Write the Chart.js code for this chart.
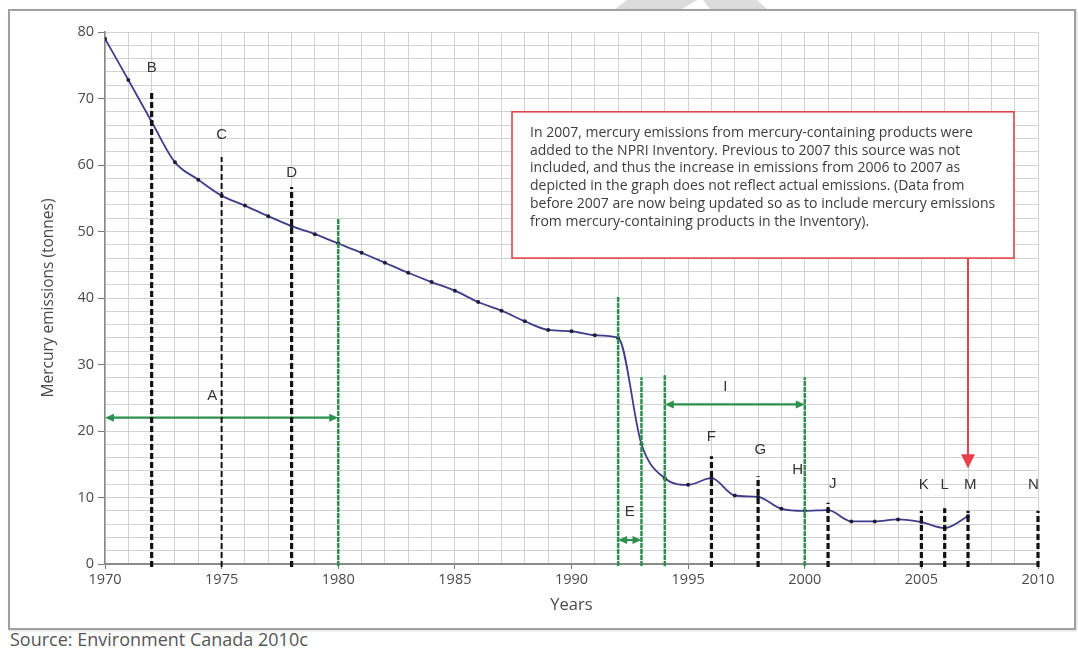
<!DOCTYPE html>
<html>
<head>
<meta charset="utf-8">
<script src="https://cdn.jsdelivr.net/npm/chart.js@4/dist/chart.umd.min.js"></script>
<style>
  html, body { margin: 0; padding: 0; background: #ffffff; }
  body { width: 1078px; height: 654px; position: relative; overflow: hidden; font-family: "Open Sans", sans-serif; }
  #frame { position: absolute; left: 8px; top: 9px; width: 1064px; height: 617px; border: 2px solid #a0a0a0; box-shadow: 1px 1px 2px rgba(0,0,0,0.15); background: #fff; }
  #wm1 { position: absolute; left: 0; top: 0; width: 1078px; height: 9px; background: #dcdcdc;
         clip-path: polygon(615px 9px, 627px 0px, 697px 0px, 682px 9px); }
  #wm2 { position: absolute; left: 0; top: 0; width: 1078px; height: 9px; background: #dcdcdc;
         clip-path: polygon(710px 9px, 703px 0px, 757px 0px, 767px 9px); }
  #source { position: absolute; left: 10px; top: 627px; font-size: 18px; color: #555; font-family: "Open Sans", sans-serif; }
  #wrap { position: absolute; left: 0; top: 0; width: 1078px; height: 654px; }
</style>
</head>
<body>
<div id="frame"></div>
<div id="wm1"></div>
<div id="wm2"></div>
<div id="source">Source: Environment Canada 2010c</div>
<div id="wrap"><canvas id="c" width="1078" height="654"></canvas></div>
<script>
// ---- Data ----
const years = [1970,1971,1972,1973,1974,1975,1976,1977,1978,1979,1980,1981,1982,1983,1984,1985,1986,1987,1988,1989,1990,1991,1992,1993,1994,1995,1996,1997,1998,1999,2000,2001,2002,2003,2004,2005,2006,2007];
const emissions = [79.0,72.8,66.5,60.4,57.8,55.4,53.9,52.3,50.8,49.6,48.2,46.8,45.3,43.8,42.4,41.1,39.4,38.1,36.5,35.2,35.0,34.4,34.0,18.0,12.9,11.9,12.9,10.3,10.1,8.3,8.0,8.1,6.4,6.4,6.7,6.3,5.4,7.2];

// Black dashed marker lines: label, year, top value
const markerLabels = ['B','C','D','F','G','J','K','L','M','N'];
const markerYears  = [1972,1975,1978,1996,1998,2001,2005,2006,2007,2010];
const markerTops   = [71,61.2,56.7,16.2,13.2,9.2,8.0,8.4,8.0,8.0];

// Green vertical lines: year, top value
const greenYears = [1980,1992,1993,1994,2000];
const greenTops  = [52,40.3,28.1,28.4,28.1];

// Green double-headed range arrows: label, from, to, level
const rangeLabels = ['A','E','I'];
const rangeFrom   = [1970,1992,1994];
const rangeTo     = [1980,1993,2000];
const rangeLevel  = [22,3.6,24];

// Letter label positions (year, value)
const letterTexts = ['A','B','C','D','E','F','G','H','I','J','K','L','M','N'];
const letterX     = [1974.6,1972,1975,1978,1992.5,1996,1998.1,1999.7,1996.6,2001.2,2005.1,2006,2007.1,2009.8];
const letterY     = [25.3,74.6,64.5,58.8,7.8,19.1,17.1,14.1,26.6,12.0,11.9,11.9,11.9,11.9];

// Note box (data-space corners) and arrow
const noteLines = [
  'In 2007, mercury emissions from mercury-containing products were',
  'added to the NPRI Inventory. Previous to 2007 this source was not',
  'included, and thus the increase in emissions from 2006 to 2007 as',
  'depicted in the graph does not reflect actual emissions. (Data from',
  'before 2007 are now being updated so as to include mercury emissions',
  'from mercury-containing products in the Inventory).'
];
const noteBox = {x0: 1987.45, x1: 2008.97, y0: 68.0, y1: 46.0};
const noteArrow = {x: 2007, from: 46.0, to: 14.4};

const xTicksLabelled = [1970,1975,1980,1985,1990,1995,2000,2005,2010];
const yTicksLabelled = [0,10,20,30,40,50,60,70,80];

// ---- Styles ----
const GREEN = '#2b8f4e';
const thinMarkers = ['C'];

function arrowHead(ctx, tipX, tipY, dx, dy, len, half) {
  const px = -dy, py = dx;
  ctx.beginPath();
  ctx.moveTo(tipX, tipY);
  ctx.lineTo(tipX - dx*len + px*half, tipY - dy*len + py*half);
  ctx.lineTo(tipX - dx*len - px*half, tipY - dy*len - py*half);
  ctx.closePath();
  ctx.fill();
}

const overlay = {
  id: 'overlay',
  afterDatasetsDraw(chart) {
    const ctx = chart.ctx;
    const xs = chart.scales.x, ys = chart.scales.y;
    const X = v => xs.getPixelForValue(v);
    const Y = v => ys.getPixelForValue(v);
    ctx.save();

    // green vertical lines
    ctx.strokeStyle = GREEN;
    ctx.lineWidth = 2.5;
    ctx.setLineDash([5,1]);
    greenYears.forEach((yr, i) => {
      ctx.beginPath();
      ctx.moveTo(X(yr), Y(0) + 2);
      ctx.lineTo(X(yr), Y(greenTops[i]));
      ctx.stroke();
    });
    ctx.setLineDash([]);

    // green range arrows
    ctx.fillStyle = GREEN;
    ctx.lineWidth = 2.2;
    rangeLabels.forEach((lb, i) => {
      const a = X(rangeFrom[i]), b = X(rangeTo[i]), y = Y(rangeLevel[i]);
      ctx.beginPath();
      ctx.moveTo(a + 4, y);
      ctx.lineTo(b - 4, y);
      ctx.stroke();
      arrowHead(ctx, a, y, -1, 0, 9, 4);
      arrowHead(ctx, b, y, 1, 0, 9, 4);
    });

    // black dashed markers
    ctx.strokeStyle = '#111';
    markerLabels.forEach((lb, i) => {
      ctx.lineWidth = thinMarkers.includes(lb) ? 2 : 3.2;
      ctx.setLineDash([6,3]);
      ctx.beginPath();
      ctx.moveTo(X(markerYears[i]), Y(0) + 3);
      ctx.lineTo(X(markerYears[i]), Y(markerTops[i]));
      ctx.stroke();
    });
    ctx.setLineDash([]);

    // letter labels
    ctx.fillStyle = '#333';
    ctx.font = '15px "Liberation Sans", Arial, sans-serif';
    ctx.textAlign = 'center';
    ctx.textBaseline = 'middle';
    letterTexts.forEach((t, i) => ctx.fillText(t, X(letterX[i]), Y(letterY[i])));

    // note box
    const bx0 = X(noteBox.x0), bx1 = X(noteBox.x1), by0 = Y(noteBox.y0), by1 = Y(noteBox.y1);
    ctx.fillStyle = '#ffffff';
    ctx.fillRect(bx0, by0, bx1 - bx0, by1 - by0);
    ctx.strokeStyle = '#e0454a';
    ctx.lineWidth = 1.6;
    ctx.strokeRect(bx0, by0, bx1 - bx0, by1 - by0);
    ctx.fillStyle = '#3c3c3c';
    ctx.font = '14px "Open Sans", sans-serif';
    ctx.textAlign = 'left';
    ctx.textBaseline = 'middle';
    noteLines.forEach((ln, i) => ctx.fillText(ln, bx0 + 18, by0 + 21 + i * 17.8));

    // red arrow
    const ax = X(noteArrow.x);
    ctx.strokeStyle = '#e8404a';
    ctx.fillStyle = '#e8404a';
    ctx.lineWidth = 2;
    ctx.beginPath();
    ctx.moveTo(ax, Y(noteArrow.from));
    ctx.lineTo(ax, Y(noteArrow.to) - 10);
    ctx.stroke();
    arrowHead(ctx, ax, Y(noteArrow.to), 0, 1, 14, 7);

    ctx.restore();
  }
};

new Chart(document.getElementById('c'), {
  type: 'line',
  data: {
    datasets: [{
      data: years.map((yr, i) => ({x: yr, y: emissions[i]})),
      borderColor: '#3d3d8a',
      borderWidth: 1.8,
      pointRadius: 2,
      pointBackgroundColor: '#1f1f3a',
      pointBorderColor: '#1f1f3a',
      pointBorderWidth: 0,
      cubicInterpolationMode: 'monotone',
      fill: false
    }]
  },
  options: {
    responsive: false,
    animation: false,
    events: [],
    layout: { padding: { left: 0, top: 32, right: 40, bottom: 0 } },
    plugins: { legend: { display: false }, tooltip: { enabled: false } },
    scales: {
      x: {
        type: 'linear', min: 1970, max: 2010,
        afterFit(s) { s.height = 90; },
        ticks: {
          stepSize: 1, autoSkip: false, maxRotation: 0, padding: 2,
          color: '#4a4a4a', font: { family: '"Open Sans", sans-serif', size: 14.5 },
          callback: v => xTicksLabelled.includes(v) ? String(v) : ''
        },
        grid: {
          color: '#d2d2d2', lineWidth: 1, tickLength: 5,
          tickColor: c => (c.tick && xTicksLabelled.includes(c.tick.value)) ? '#777' : 'rgba(0,0,0,0)'
        },
        border: { color: '#8a8a8a', width: 2 },
        title: { display: true, text: 'Years', color: '#4a4a4a', font: { family: '"Open Sans", sans-serif', size: 16.5 }, padding: { top: 0, bottom: 39 } }
      },
      y: {
        min: 0, max: 80,
        afterFit(s) { s.width = 105; },
        ticks: {
          stepSize: 2, autoSkip: false, padding: 4,
          color: '#4a4a4a', font: { family: '"Open Sans", sans-serif', size: 14.5 },
          callback: v => yTicksLabelled.includes(v) ? String(v) : ''
        },
        grid: {
          color: '#d2d2d2', lineWidth: 1, tickLength: 7,
          tickColor: c => (c.tick && yTicksLabelled.includes(c.tick.value)) ? '#777' : 'rgba(0,0,0,0)'
        },
        border: { color: '#8a8a8a', width: 1.5 },
        title: { display: true, text: 'Mercury emissions (tonnes)', color: '#4a4a4a', font: { family: '"Open Sans", sans-serif', size: 15.5 }, padding: { top: 39, bottom: 0 } }
      }
    }
  },
  plugins: [overlay]
});
</script>
</body>
</html>
